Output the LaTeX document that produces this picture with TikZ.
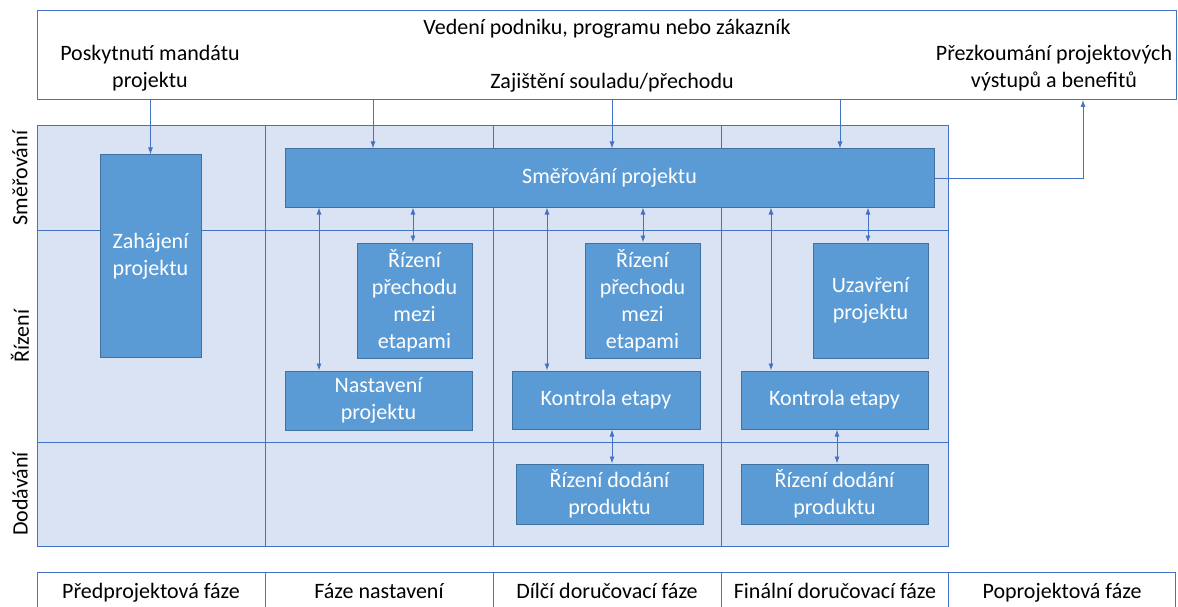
\documentclass[tikz,border=0pt]{standalone}
\usepackage{fontspec}
\setmainfont{Carlito}
\usetikzlibrary{arrows.meta}
\definecolor{boxfill}{HTML}{5B9BD5}
\definecolor{boxline}{HTML}{41719C}
\definecolor{gridfill}{HTML}{DAE3F3}
\definecolor{gridline}{HTML}{4472C4}
\begin{document}
\begin{tikzpicture}[x=1pt,y=-1pt,
 blk/.style={draw=boxline, fill=boxfill, line width=1pt, text=white, align=center, inner sep=0pt, font=\fontsize{22}{27}\selectfont},
 lbl/.style={align=center, inner sep=0pt, font=\fontsize{22}{27}\selectfont},
 arr/.style={draw=gridline, line width=0.9pt, -{Latex[length=7pt,width=5pt]}},
 darr/.style={draw=gridline, line width=0.9pt, {Latex[length=7pt,width=5pt]}-{Latex[length=7pt,width=5pt]}},
 gl/.style={draw=gridline, line width=1pt}]
\useasboundingbox (0,0) rectangle (1178,607);
\clip (0,0) rectangle (1178,607);
% top box
\node[draw=gridline, fill=white, line width=1pt, minimum width=1139pt, minimum height=89pt, inner sep=0pt] (top) at (606.5,55) {};
\node[lbl, anchor=base] (t1) at (607,35) {Vedení podniku, programu nebo zákazník};
\node[lbl] (t2) at (150,68) {Poskytnutí mandátu\\projektu};
\node[lbl, anchor=base] (t3) at (612,89) {Zajištění souladu/přechodu};
\node[lbl] (t4) at (1054,68) {Přezkoumání projektových\\výstupů a benefitů};
% grid
\fill[gridfill] (37,126) rectangle (948,546);
\draw[gl] (37,126) rectangle (948,546);
\draw[gl] (37,230) -- (948,230);
\draw[gl] (37,442) -- (948,442);
\foreach \x in {265,493,721} \draw[gl] (\x,126) -- (\x,546);
% row labels
\node[lbl, rotate=90] (r1) at (20,178) {Směřování};
\node[lbl, rotate=90] (r2) at (20,336) {Řízení};
\node[lbl, rotate=90] (r3) at (20,494) {Dodávání};
% phase row
\draw[gl] (37,572) rectangle (1175,640);
\foreach \x in {265,493,721,948} \draw[gl] (\x,572) -- (\x,640);
\node[lbl, anchor=base] (p1) at (151,598) {Předprojektová fáze};
\node[lbl, anchor=base] (p2) at (379,598) {Fáze nastavení};
\node[lbl, anchor=base] (p3) at (607,598) {Dílčí doručovací fáze};
\node[lbl, anchor=base] (p4) at (835,598) {Finální doručovací fáze};
\node[lbl, anchor=base] (p5) at (1062,598) {Poprojektová fáze};
% boxes
\node[blk, minimum width=101pt, minimum height=202pt] (zah) at (150.5,256) {Zahájení\\projektu};
\node[blk, minimum width=649pt, minimum height=58pt] (smer) at (609.5,178) {Směřování projektu};
\node[blk, minimum width=115pt, minimum height=115pt] (rp1) at (414.5,300.5) {Řízení\\přechodu\\mezi\\etapami};
\node[blk, minimum width=115pt, minimum height=115pt] (rp2) at (642.5,300.5) {Řízení\\přechodu\\mezi\\etapami};
\node[blk, minimum width=115pt, minimum height=115pt] (uz) at (870.5,300.5) {Uzavření\\projektu};
\node[blk, minimum width=187pt, minimum height=59pt] (nast) at (378.5,400.5) {Nastavení\\projektu};
\node[blk, minimum width=188pt, minimum height=58pt] (ke1) at (606,400) {Kontrola etapy};
\node[blk, minimum width=187pt, minimum height=58pt] (ke2) at (834.5,400) {Kontrola etapy};
\node[blk, minimum width=187pt, minimum height=60pt] (rd1) at (609.5,494) {Řízení dodání\\produktu};
\node[blk, minimum width=187pt, minimum height=60pt] (rd2) at (834.5,494) {Řízení dodání\\produktu};
% arrow x positions
\coordinate (a1) at (373,0);
\coordinate (a2) at (612,0);
\coordinate (a3) at (840,0);
\coordinate (a4) at (1083,0);
\coordinate (c1) at (319,0);
\coordinate (c2) at (413,0);
\coordinate (c3) at (547,0);
\coordinate (c4) at (643,0);
\coordinate (c5) at (771,0);
\coordinate (c6) at (868,0);
\coordinate (c7) at (612,0);
\coordinate (c8) at (837,0);
% arrows
\draw[arr] (top.south -| zah.north) -- (zah.north);
\draw[arr] (top.south -| a1) -- (smer.north -| a1);
\draw[arr] (top.south -| a2) -- (smer.north -| a2);
\draw[arr] (top.south -| a3) -- (smer.north -| a3);
\draw[arr] (smer.east) -| (top.south -| a4);
\draw[darr] (smer.south -| c1) -- (nast.north -| c1);
\draw[darr] (smer.south -| c2) -- (rp1.north -| c2);
\draw[darr] (smer.south -| c3) -- (ke1.north -| c3);
\draw[darr] (smer.south -| c4) -- (rp2.north -| c4);
\draw[darr] (smer.south -| c5) -- (ke2.north -| c5);
\draw[darr] (smer.south -| c6) -- (uz.north -| c6);
\draw[darr] (ke1.south -| c7) -- (rd1.north -| c7);
\draw[darr] (ke2.south -| c8) -- (rd2.north -| c8);
\end{tikzpicture}
\end{document}
